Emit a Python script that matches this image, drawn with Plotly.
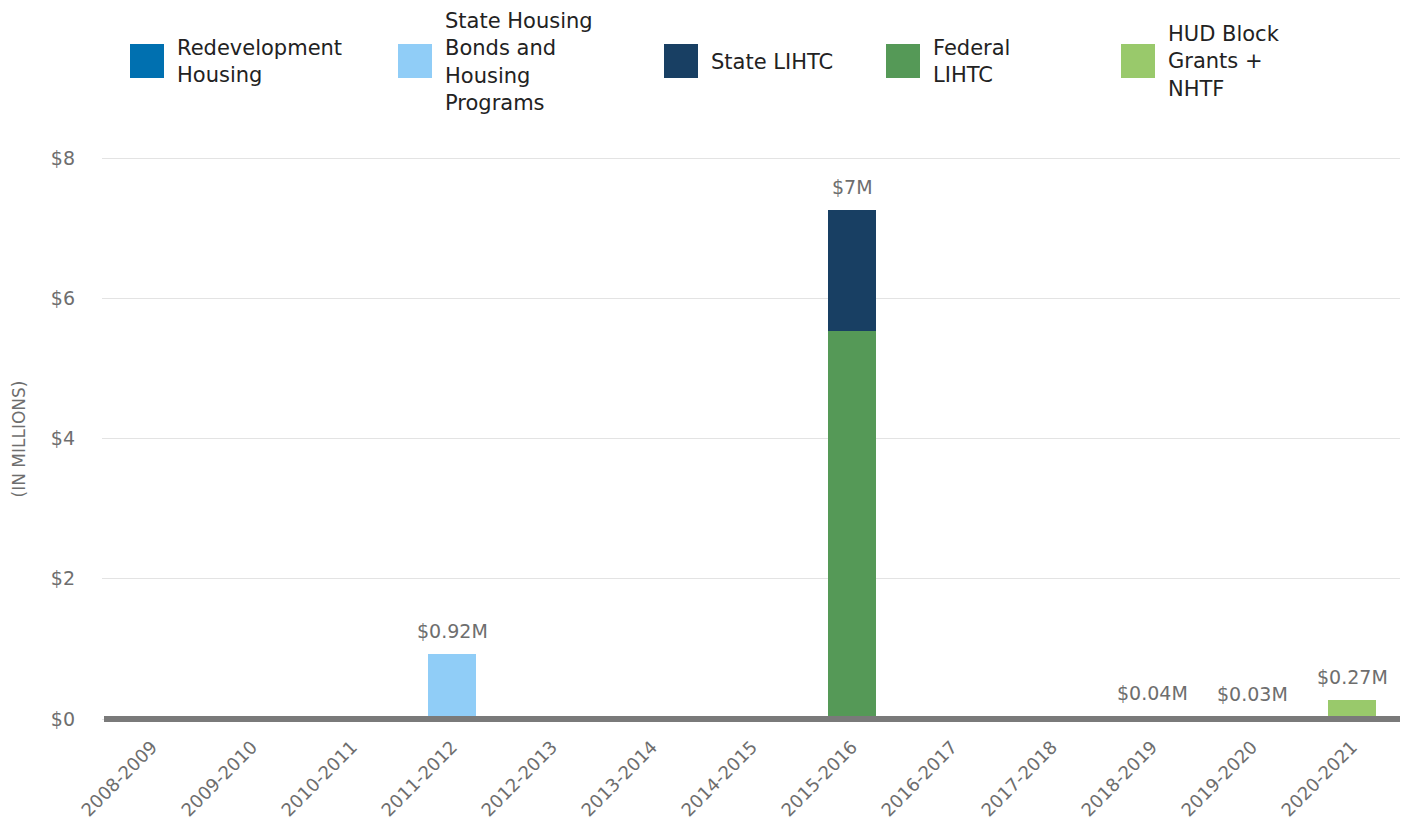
import plotly.graph_objects as go

years = ["2008-2009", "2009-2010", "2010-2011", "2011-2012", "2012-2013", "2013-2014",
         "2014-2015", "2015-2016", "2016-2017", "2017-2018", "2018-2019", "2019-2020", "2020-2021"]

redevelopment = [0, 0, 0, 0, 0, 0, 0, 0, 0, 0, 0, 0, 0]
state_bonds = [0, 0, 0, 0.92, 0, 0, 0, 0, 0, 0, 0, 0, 0]
federal_lihtc = [0, 0, 0, 0, 0, 0, 0, 5.54, 0, 0, 0, 0, 0]
state_lihtc = [0, 0, 0, 0, 0, 0, 0, 1.72, 0, 0, 0, 0, 0]
hud_nhtf = [0, 0, 0, 0, 0, 0, 0, 0, 0, 0, 0.04, 0.03, 0.27]

total_labels = ["", "", "", "$0.92M", "", "", "", "$7M", "", "", "$0.04M", "$0.03M", "$0.27M"]

series_names = ["Redevelopment<br>Housing", "State Housing<br>Bonds and<br>Housing<br>Programs",
                "State LIHTC", "Federal<br>LIHTC", "HUD Block<br>Grants +<br>NHTF"]
series_colors = ["#0070b0", "#90cdf7", "#183f63", "#559957", "#99c96b"]
series_values = [redevelopment, state_bonds, state_lihtc, federal_lihtc, hud_nhtf]

FONT = "DejaVu Sans"
GREY = "#6e6e6e"

OFF = 8
PL, PR, PT, PB = 102, 1402, 155, 723  # plot area in page pixels
PW, PH = PR - PL, PB - PT
W, H = 1408, 833
PX_PER_UNIT = (719 - 158) / 8.0
Y_LO = -(PB - 719) / PX_PER_UNIT
Y_HI = 8 + (158 - PT) / PX_PER_UNIT

fig = go.Figure()
order = [0, 1, 3, 2, 4]  # federal below state LIHTC
for i in order:
    fig.add_trace(go.Bar(x=years, y=series_values[i], name=series_names[i],
                         marker=dict(color=series_colors[i], line=dict(width=0)),
                         showlegend=False, hoverinfo="x+y"))

totals = [sum(v[k] for v in series_values) for k in range(len(years))]
for k, lab in enumerate(total_labels):
    if lab:
        fig.add_annotation(x=years[k], y=totals[k], text=lab, showarrow=False,
                           yanchor="middle", yshift=23,
                           font=dict(family=FONT, size=19, color=GREY))

# baseline drawn above the bars
fig.add_shape(type="line", xref="paper", yref="y", x0=(104 - PL) / PW, x1=1, y0=0, y1=0,
              line=dict(color="#7a7a7a", width=6), layer="above")

# custom legend with large square swatches
swatch_x = [130, 398, 664, 886, 1121]
for sx, name, col in zip(swatch_x, series_names, series_colors):
    fig.add_shape(type="rect", xref="paper", yref="paper",
                  x0=(sx - PL) / PW, x1=(sx + 34 - PL) / PW,
                  y0=(PB - 78) / PH, y1=(PB - 44) / PH,
                  fillcolor=col, line=dict(width=0), layer="above")
    fig.add_annotation(xref="paper", yref="paper", x=(sx + 45 - PL) / PW,
                       y=(PB - 61.5) / PH, text=name, showarrow=False,
                       xanchor="left", yanchor="middle", align="left",
                       font=dict(family=FONT, size=21, color="#222222"))

fig.update_layout(
    barmode="stack",
    bargap=0.52,
    width=W, height=H,
    margin=dict(l=PL - OFF, r=W - (PR - OFF), t=PT - OFF, b=H - (PB - OFF), autoexpand=False),
    paper_bgcolor="white", plot_bgcolor="white",
    font=dict(family=FONT, color=GREY),
    showlegend=False,
)
fig.update_xaxes(tickangle=-45, tickfont=dict(family=FONT, size=18, color=GREY),
                 showgrid=False, showline=False, ticks="", ticklabelstandoff=9)
fig.update_yaxes(range=[Y_LO, Y_HI], tickvals=[0, 2, 4, 6, 8],
                 ticktext=["$0", "$2", "$4", "$6", "$8"],
                 tickfont=dict(family=FONT, size=19, color=GREY),
                 gridcolor="#e3e3e3", gridwidth=1,
                 zeroline=False,
                 ticklabelstandoff=26,
                 title=dict(text="(IN MILLIONS)", font=dict(family=FONT, size=17, color=GREY),
                            standoff=20))

fig.write_html("out.html")
